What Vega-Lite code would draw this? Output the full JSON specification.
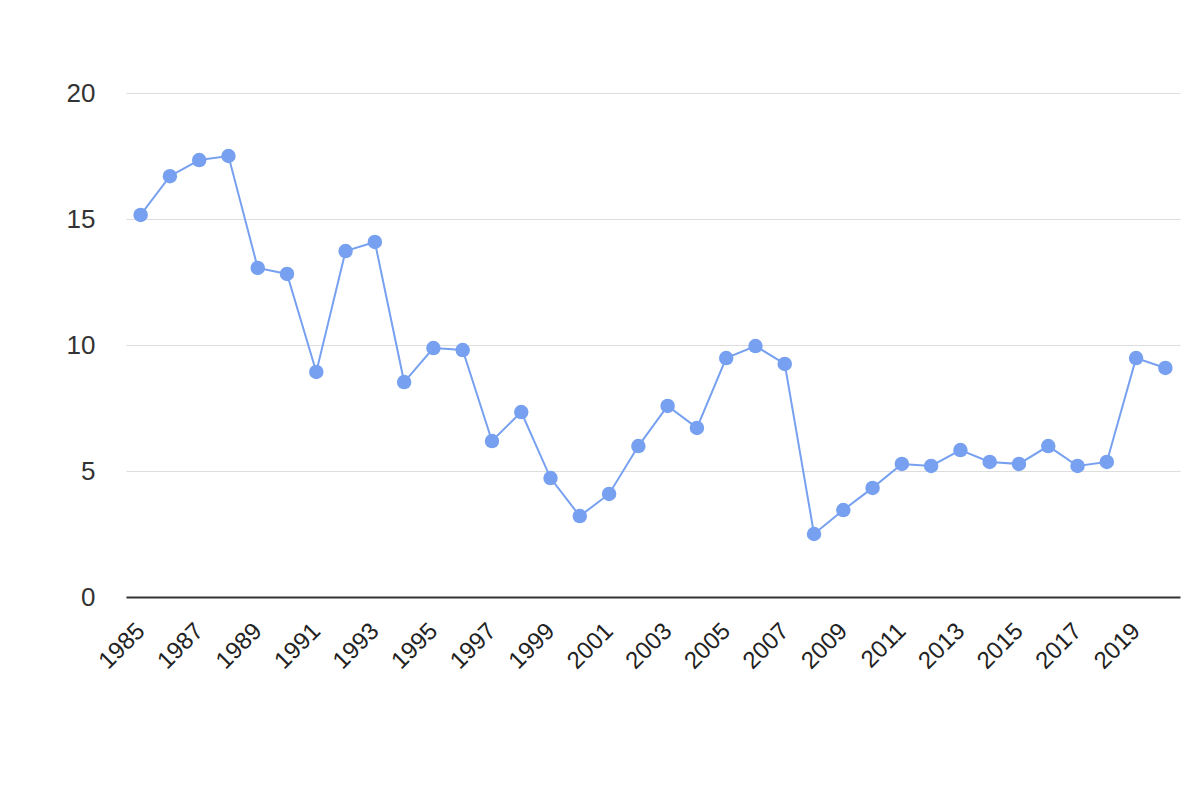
{
  "$schema": "https://vega.github.io/schema/vega-lite/v6.json",
  "autosize": "none",
  "width": 1054,
  "height": 504,
  "padding": {"left": 126, "top": 93, "right": 20, "bottom": 203},
  "background": "white",
  "data": {"values": [
    {"year": 1985, "value": 15.16},
    {"year": 1986, "value": 16.7},
    {"year": 1987, "value": 17.34},
    {"year": 1988, "value": 17.5},
    {"year": 1989, "value": 13.06},
    {"year": 1990, "value": 12.82},
    {"year": 1991, "value": 8.93},
    {"year": 1992, "value": 13.73},
    {"year": 1993, "value": 14.09},
    {"year": 1994, "value": 8.53},
    {"year": 1995, "value": 9.88},
    {"year": 1996, "value": 9.8},
    {"year": 1997, "value": 6.19},
    {"year": 1998, "value": 7.34},
    {"year": 1999, "value": 4.72},
    {"year": 2000, "value": 3.21},
    {"year": 2001, "value": 4.09},
    {"year": 2002, "value": 5.99},
    {"year": 2003, "value": 7.58},
    {"year": 2004, "value": 6.71},
    {"year": 2005, "value": 9.48},
    {"year": 2006, "value": 9.96},
    {"year": 2007, "value": 9.25},
    {"year": 2008, "value": 2.5},
    {"year": 2009, "value": 3.45},
    {"year": 2010, "value": 4.33},
    {"year": 2011, "value": 5.28},
    {"year": 2012, "value": 5.2},
    {"year": 2013, "value": 5.83},
    {"year": 2014, "value": 5.36},
    {"year": 2015, "value": 5.28},
    {"year": 2016, "value": 5.99},
    {"year": 2017, "value": 5.2},
    {"year": 2018, "value": 5.36},
    {"year": 2019, "value": 9.48},
    {"year": 2020, "value": 9.09}
  ]},
  "encoding": {
    "x": {
      "field": "year",
      "type": "ordinal",
      "scale": {"type": "point", "padding": 0.5},
      "axis": {
        "title": null,
        "values": [1985,1987,1989,1991,1993,1995,1997,1999,2001,2003,2005,2007,2009,2011,2013,2015,2017,2019],
        "labelAngle": -45,
        "labelAlign": "right",
        "labelBaseline": "middle",
        "labelFont": "Liberation Sans",
        "labelFontSize": 24,
        "labelColor": "#222222",
        "labelPadding": 30,
        "labelOverlap": false,
        "ticks": false,
        "domainColor": "#333333",
        "domainWidth": 2,
        "grid": false
      }
    },
    "y": {
      "field": "value",
      "type": "quantitative",
      "scale": {"domain": [0, 20]},
      "axis": {
        "title": null,
        "values": [0, 5, 10, 15, 20],
        "labelFont": "Liberation Sans",
        "labelFontSize": 26,
        "labelColor": "#333333",
        "labelPadding": 31,
        "ticks": false,
        "domain": false,
        "gridColor": "#dddddd",
        "gridWidth": 1
      }
    }
  },
  "layer": [
    {"mark": {"type": "line", "color": "#77a1f0", "strokeWidth": 2}},
    {"mark": {"type": "point", "filled": true, "opacity": 1, "color": "#77a1f0", "size": 210}}
  ],
  "config": {"view": {"stroke": null}}
}
